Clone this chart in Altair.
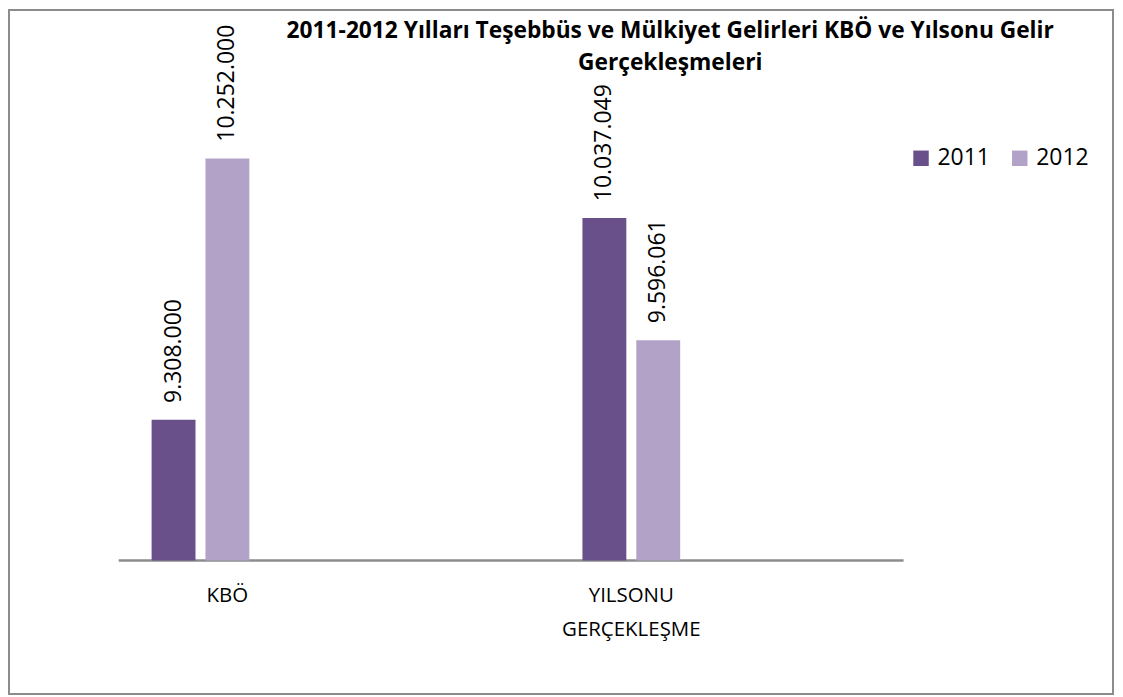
import altair as alt
import pandas as pd

categories = ["KBÖ", "YILSONU GERÇEKLEŞME"]
years = ["2011", "2012"]
values_2011 = [9308000, 10037049]
values_2012 = [10252000, 9596061]
colors = ["#69508A", "#B2A2C7"]
title_lines = ["2011-2012 Yılları Teşebbüs ve Mülkiyet Gelirleri KBÖ ve Yılsonu Gelir",
               "Gerçekleşmeleri"]
axis_min, axis_max = 8800000, 10400000


def tr(v):
    return f"{v:,}".replace(",", ".")


rows = []
for i, c in enumerate(categories):
    rows.append({"cat": c, "year": "2011", "value": values_2011[i], "label": tr(values_2011[i])})
    rows.append({"cat": c, "year": "2012", "value": values_2012[i], "label": tr(values_2012[i])})
df = pd.DataFrame(rows)

W, H = 787, 444
FONT = "Open Sans"

x_enc = alt.X(
    "cat:N", sort=categories,
    scale=alt.Scale(range=[-134, 730], paddingInner=0, paddingOuter=0),
    axis=alt.Axis(title=None, domain=False, ticks=False, labelAngle=0,
                  labelFont=FONT, labelFontSize=20.5, labelColor="#000000",
                  labelPadding=25, labelBaseline="top", labelLineHeight=34,
                  labelExpr="split(datum.label, ' ')",
                  labelOffset={"condition": {"test": "datum.value === 'KBÖ'", "value": 27}, "value": 0}),
)
xoff_enc = alt.XOffset("year:N", sort=years,
                       scale=alt.Scale(range=[167, 265], paddingInner=0.185, paddingOuter=0))
y_enc = alt.Y("value:Q", scale=alt.Scale(domain=[axis_min, axis_max], nice=False, zero=False), axis=None)

base = alt.Chart(df)

bars = base.mark_bar().encode(
    x=x_enc, xOffset=xoff_enc, y=y_enc, y2=alt.datum(axis_min),
    color=alt.Color("year:N", sort=years, scale=alt.Scale(domain=years, range=colors),
                    legend=alt.Legend(title=None, orient="none", legendX=793, legendY=29,
                                      direction="horizontal", symbolType="square", symbolSize=240,
                                      symbolStrokeWidth=0, labelFont=FONT, labelFontSize=23,
                                      labelColor="#000000", columnPadding=18, labelOffset=5,
                                      padding=0)),
)

labels = base.mark_text(angle=270, align="left", baseline="middle", dx=17,
                        font=FONT, fontSize=23, color="#000000").encode(
    x=x_enc, xOffset=xoff_enc, y=y_enc, text="label:N"
)

one = pd.DataFrame({"a": [0]})

axis_line = alt.Chart(one).mark_rule(color="#8c8c8c", strokeWidth=2.5).encode(
    x=alt.value(0), x2=alt.value(W), y=alt.value(H)
)

border = alt.Chart(one).mark_rect(filled=False, stroke="#8c8c8c", strokeWidth=2).encode(
    x=alt.value(-110), x2=alt.value(997), y=alt.value(-108), y2=alt.value(578)
)

title = alt.Chart(one).mark_text(font=FONT, fontSize=22.8, fontWeight="bold", align="center",
                                 baseline="alphabetic", lineHeight=32, color="#000000").encode(
    x=alt.value(553), y=alt.value(-80), text=alt.value(title_lines)
)

chart = alt.layer(border, axis_line, bars, labels, title).properties(
    width=W, height=H,
    autosize=alt.AutoSizeParams(type="none"),
    padding={"left": 111, "top": 109, "right": 212, "bottom": 135},
).configure_view(stroke=None)

chart.save("out.html", embed_options={"renderer": "svg", "actions": False})
